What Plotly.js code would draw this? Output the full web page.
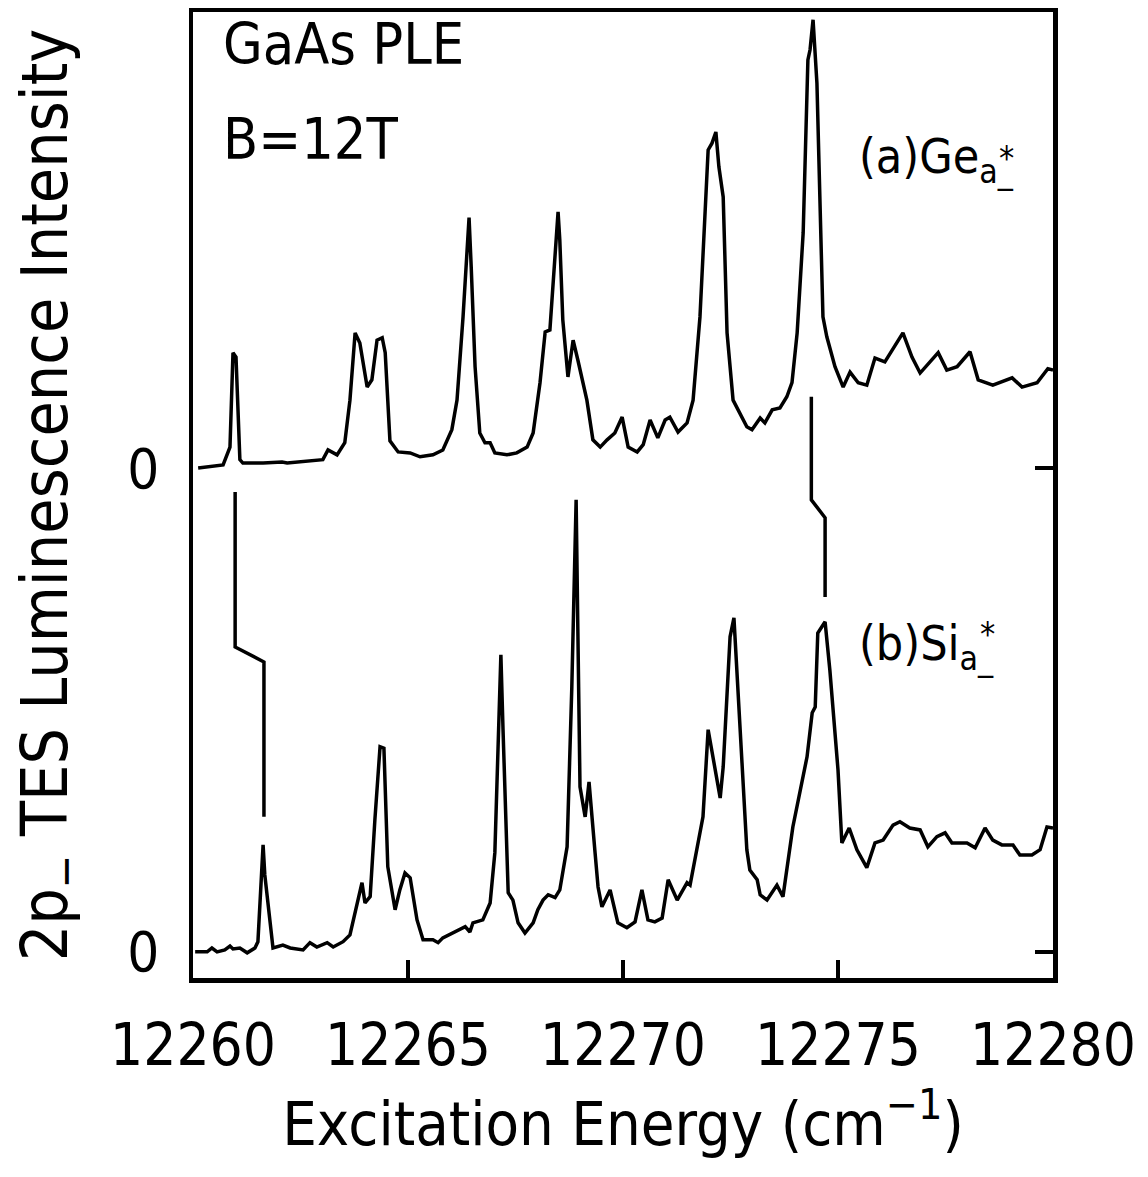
<!DOCTYPE html>
<html>
<head>
<meta charset="utf-8">
<script src="https://cdn.plot.ly/plotly-3.0.1.min.js"></script>
<style>html,body{margin:0;padding:0;background:#fff;}#chart{width:1148px;height:1177px;}</style>
</head>
<body>
<div id="chart"></div>
<script>
// Excitation energy (cm^-1) and intensity (a.u., each relative to its own baseline)
const energyA = [12260.12,12260.70,12260.86,12260.93,12261.00,12261.09,12261.16,12261.63,12262.07,12262.19,
12263.02,12263.14,12263.35,12263.53,12263.65,12263.77,12263.88,12264.05,12264.16,12264.28,
12264.40,12264.47,12264.58,12264.77,12265.05,12265.28,12265.58,12265.81,12266.02,12266.14,
12266.28,12266.42,12266.47,12266.56,12266.67,12266.79,12266.91,12267.02,12267.30,12267.53,
12267.77,12267.91,12268.07,12268.19,12268.30,12268.37,12268.49,12268.53,12268.60,12268.72,
12268.84,12268.95,12269.07,12269.16,12269.30,12269.47,12269.63,12269.81,12269.98,12270.12,
12270.33,12270.47,12270.63,12270.81,12270.98,12271.09,12271.28,12271.49,12271.63,12271.79,
12271.98,12272.07,12272.16,12272.23,12272.33,12272.42,12272.56,12272.72,12272.88,12273.00,
12273.19,12273.30,12273.47,12273.65,12273.81,12273.93,12274.05,12274.19,12274.30,12274.35,
12274.42,12274.51,12274.65,12274.74,12274.93,12275.12,12275.28,12275.47,12275.67,12275.86,
12276.09,12276.51,12276.72,12276.91,12277.33,12277.53,12277.77,12278.07,12278.26,12278.60,
12279.05,12279.28,12279.63,12279.88,12280.00];
const intensityA = [0.000,0.006,0.043,0.238,0.229,0.017,0.010,0.010,0.012,0.010,
0.017,0.037,0.027,0.052,0.140,0.279,0.258,0.167,0.182,0.264,
0.269,0.238,0.056,0.033,0.031,0.023,0.027,0.037,0.079,0.140,
0.312,0.517,0.415,0.209,0.072,0.052,0.052,0.031,0.027,0.031,
0.043,0.072,0.176,0.281,0.285,0.374,0.529,0.471,0.306,0.188,
0.264,0.223,0.176,0.140,0.058,0.043,0.058,0.072,0.105,0.043,
0.033,0.048,0.099,0.062,0.099,0.105,0.074,0.093,0.140,0.312,
0.657,0.671,0.694,0.622,0.560,0.279,0.140,0.114,0.085,0.079,
0.103,0.093,0.120,0.124,0.147,0.176,0.279,0.486,0.843,0.864,
0.926,0.795,0.312,0.271,0.209,0.167,0.198,0.176,0.171,0.227,
0.219,0.279,0.229,0.196,0.238,0.202,0.209,0.240,0.182,0.171,
0.186,0.167,0.176,0.205,0.202];

const energyB = [12260.05,12260.33,12260.44,12260.56,12260.74,12260.86,12260.93,12261.09,12261.26,12261.44,
12261.51,12261.63,12261.67,12261.86,12262.09,12262.26,12262.56,12262.72,12262.88,12263.12,
12263.26,12263.49,12263.65,12263.81,12263.93,12264.00,12264.12,12264.23,12264.35,12264.44,
12264.53,12264.70,12264.81,12264.93,12265.05,12265.21,12265.35,12265.58,12265.70,12265.81,
12266.05,12266.33,12266.44,12266.51,12266.74,12266.91,12267.02,12267.09,12267.16,12267.21,
12267.33,12267.44,12267.56,12267.72,12267.91,12268.02,12268.14,12268.26,12268.42,12268.53,
12268.70,12268.81,12268.91,12268.95,12269.00,12269.12,12269.21,12269.35,12269.42,12269.51,
12269.70,12269.88,12270.09,12270.28,12270.44,12270.58,12270.74,12270.91,12271.05,12271.26,
12271.49,12271.56,12271.72,12271.86,12271.98,12272.26,12272.33,12272.49,12272.58,12272.67,
12272.88,12272.95,12273.12,12273.19,12273.35,12273.58,12273.72,12273.95,12274.16,12274.28,
12274.40,12274.47,12274.53,12274.70,12274.81,12275.00,12275.09,12275.26,12275.44,12275.67,
12275.86,12276.05,12276.28,12276.44,12276.67,12276.91,12277.09,12277.30,12277.49,12277.65,
12278.00,12278.19,12278.42,12278.60,12278.81,12279.07,12279.23,12279.51,12279.70,12279.86,
12280.00];
const intensityB = [0.000,0.000,0.008,0.000,0.004,0.012,0.006,0.008,-0.002,0.008,
0.021,0.221,0.159,0.008,0.014,0.008,0.004,0.019,0.010,0.019,
0.010,0.021,0.035,0.093,0.143,0.101,0.114,0.273,0.424,0.421,
0.176,0.087,0.128,0.163,0.153,0.066,0.025,0.025,0.019,0.029,
0.039,0.052,0.041,0.060,0.066,0.101,0.205,0.444,0.614,0.459,
0.122,0.107,0.060,0.039,0.060,0.087,0.107,0.118,0.112,0.128,
0.217,0.548,0.934,0.665,0.341,0.279,0.351,0.205,0.134,0.093,
0.128,0.060,0.050,0.062,0.128,0.066,0.062,0.070,0.149,0.107,
0.143,0.138,0.211,0.279,0.459,0.318,0.382,0.651,0.690,0.548,
0.211,0.169,0.149,0.118,0.107,0.138,0.114,0.258,0.349,0.403,
0.494,0.506,0.659,0.682,0.583,0.376,0.225,0.256,0.211,0.174,
0.225,0.231,0.262,0.269,0.256,0.252,0.217,0.238,0.246,0.225,
0.225,0.215,0.256,0.231,0.221,0.221,0.200,0.200,0.211,0.258,
0.256];

// Guide lines linking corresponding peaks (plot y units, trace (a) baseline = 1)
const guideLeftX = [12260.98,12260.98,12261.65,12261.65];
const guideLeftY = [0.950,0.630,0.599,0.279];
const guideRightX = [12274.38,12274.38,12274.70,12274.70];
const guideRightY = [1.147,0.934,0.897,0.733];

const xTickVals = [12260,12265,12270,12275,12280];
const xTickText = ['12260','12265','12270','12275','12280'];
const yTickVals = [0,1];
const yTickText = ['0','0'];
const offsetA = 1;

const FONT = '"DejaVu Sans Condensed", "Liberation Sans", sans-serif';
const lineStyle = {color:'#000', width:3.5};

const traces = [
  {x: energyA, y: intensityA.map(v => v + offsetA), mode:'lines', line:lineStyle, hoverinfo:'skip'},
  {x: energyB, y: intensityB, mode:'lines', line:lineStyle, hoverinfo:'skip'},
  {x: guideLeftX, y: guideLeftY, mode:'lines', line:lineStyle, yaxis:'y2', hoverinfo:'skip'},
  {x: guideRightX, y: guideRightY, mode:'lines', line:lineStyle, yaxis:'y2', hoverinfo:'skip'}
];

const yRange = [-0.054, 1.942];

const layout = {
  width:1148, height:1177,
  margin:{l:193, r:95, t:12, b:199},
  paper_bgcolor:'#fff', plot_bgcolor:'#fff',
  showlegend:false,
  font:{family:FONT, color:'#000'},
  xaxis:{
    range:[12260,12280], showgrid:false, zeroline:false,
    showline:true, mirror:true, linecolor:'#000', linewidth:4.5,
    ticks:'inside', ticklen:18, tickwidth:3.5, tickcolor:'#000',
    tickvals:xTickVals, ticktext:xTickText,
    tickfont:{size:58, family:FONT}, ticklabelstandoff:13,
    title:{text:'Excitation Energy (cm<sup>−1</sup>)', font:{size:61, family:FONT}, standoff:24}
  },
  yaxis:{
    range:yRange, showgrid:false, zeroline:false,
    showline:true, mirror:true, linecolor:'#000', linewidth:4.5,
    ticks:'', tickvals:yTickVals, ticktext:yTickText,
    tickfont:{size:56, family:FONT}, ticklabelstandoff:18,
    title:{text:'2p<sub>−</sub> TES Luminescence Intensity', font:{size:64, family:FONT}, standoff:40}
  },
  yaxis2:{
    range:yRange, overlaying:'y', side:'right', anchor:'x',
    showgrid:false, zeroline:false, showline:false,
    ticks:'inside', ticklen:18, tickwidth:3.5, tickcolor:'#000',
    tickvals:yTickVals, showticklabels:false
  },
  annotations:[
    {xref:'paper', yref:'paper', x:0.033, y:1.003, xanchor:'left', yanchor:'top', showarrow:false,
     text:'GaAs PLE', font:{size:57, family:FONT}},
    {xref:'paper', yref:'paper', x:0.033, y:0.905, xanchor:'left', yanchor:'top', showarrow:false,
     text:'B=12T', font:{size:57, family:FONT}},
    {xref:'paper', yref:'paper', x:0.772, y:0.882, xanchor:'left', yanchor:'top', showarrow:false,
     text:'(a)Ge<sub>a_</sub>', font:{size:48, family:FONT}},
    {xref:'paper', yref:'paper', x:0.946, y:0.849, xanchor:'center', yanchor:'middle', showarrow:false,
     text:'*', font:{size:34, family:FONT}},
    {xref:'paper', yref:'paper', x:0.772, y:0.378, xanchor:'left', yanchor:'top', showarrow:false,
     text:'(b)Si<sub>a_</sub>', font:{size:48, family:FONT}},
    {xref:'paper', yref:'paper', x:0.924, y:0.356, xanchor:'center', yanchor:'middle', showarrow:false,
     text:'*', font:{size:34, family:FONT}}
  ]
};

Plotly.newPlot('chart', traces, layout, {staticPlot:true, displayModeBar:false});
</script>
</body>
</html>
